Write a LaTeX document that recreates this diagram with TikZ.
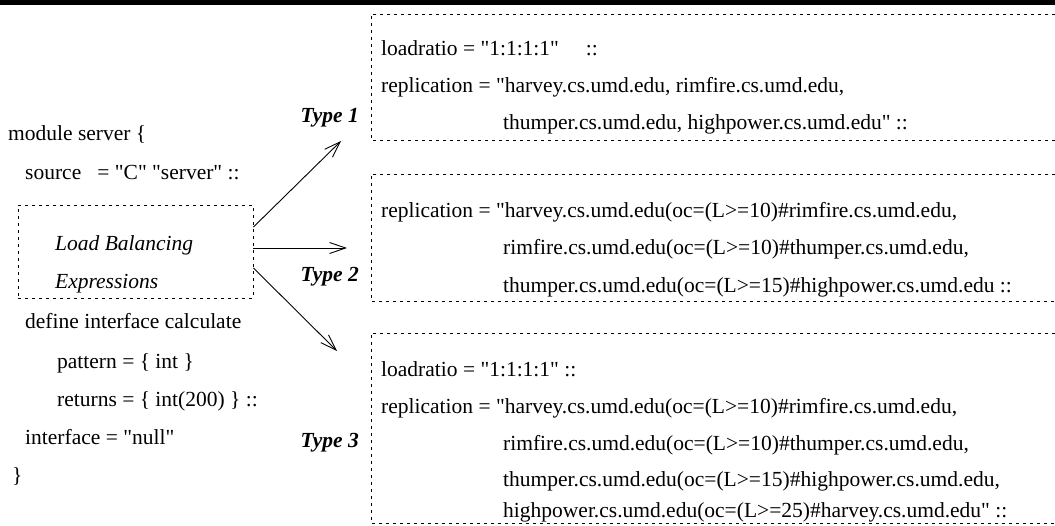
\documentclass[tikz,border=0pt]{standalone}
\usepackage{fontspec}
\setmainfont{Liberation Serif}[Ligatures=TeXOff]
\usetikzlibrary{arrows.meta}

\newcommand\codefont{\fontsize{21.5}{26}\selectfont}

\tikzset{
  code/.style={anchor=base west, inner sep=0pt, font=\codefont},
  typelabel/.style={anchor=base east, inner sep=0pt, font=\codefont\bfseries\itshape},
  dotbox/.style={dash pattern=on 3pt off 4pt, line width=0.9pt},
  flow/.style={line width=0.9pt, -{Straight Barb[length=16pt,width=11pt,line width=0.9pt]}}
}

\begin{document}
\begin{tikzpicture}[x=1pt, y=-1pt]
\useasboundingbox (0,0) rectangle (1055,525);
\fill (0,0) rectangle (1055,5);

% module definition
\node[code] (mod)   at (8,140)  {module server \{};
\node[code] (src)   at (25,179) {source~~~= "C" "server" ::};
\node[draw, dotbox, minimum width=235pt, minimum height=93pt, inner sep=0pt] (lbe) at (135.5,251.5) {};
\node[code, font=\codefont\itshape] (lbe1) at (55,250) {Load Balancing};
\node[code, font=\codefont\itshape] (lbe2) at (55,288) {Expressions};
\node[code] (def)   at (25,328) {define interface calculate};
\node[code] (pat)   at (57,368) {pattern = \{ int \}};
\node[code] (ret)   at (57,406) {returns = \{ int(200) \} ::};
\node[code] (intf)  at (25,444) {interface = "null"};
\node[code] (close) at (12,482) {\}};

% the three kinds
\node[typelabel] (type1) at (359,122) {Type 1};
\node[typelabel] (type2) at (359,281) {Type 2};
\node[typelabel] (type3) at (359,447) {Type 3};

\coordinate (tip1) at (341,141);
\coordinate (tip2) at (347,248);
\coordinate (tip3) at (337,351);
\draw[flow] ([yshift=24.5pt]lbe.east) -- (tip1);
\draw[flow] ([yshift=3.5pt]lbe.east) -- (tip2);
\draw[flow] ([yshift=-16.5pt]lbe.east) -- (tip3);

% type 1
\draw[dotbox] (1055,14) -| (371,140) -- (1055,140);
\node[code] (a1) at (381,55)  {loadratio = "1:1:1:1"~~~~~::};
\node[code] (a2) at (381,92)  {replication = "harvey.cs.umd.edu, rimfire.cs.umd.edu,};
\node[code] (a3) at (503,129) {thumper.cs.umd.edu, highpower.cs.umd.edu" ::};

% type 2
\draw[dotbox] (1055,174) -| (371,301) -- (1055,301);
\node[code] (b1) at (381,217) {replication = "harvey.cs.umd.edu(oc=(L>=10)\#rimfire.cs.umd.edu,};
\node[code] (b2) at (503,254) {rimfire.cs.umd.edu(oc=(L>=10)\#thumper.cs.umd.edu,};
\node[code] (b3) at (503,292) {thumper.cs.umd.edu(oc=(L>=15)\#highpower.cs.umd.edu ::};

% type 3
\draw[dotbox] (1055,333) -| (371,523) -- (1055,523);
\node[code] (c1) at (381,376) {loadratio = "1:1:1:1" ::};
\node[code] (c2) at (381,413) {replication = "harvey.cs.umd.edu(oc=(L>=10)\#rimfire.cs.umd.edu,};
\node[code] (c3) at (503,450) {rimfire.cs.umd.edu(oc=(L>=10)\#thumper.cs.umd.edu,};
\node[code] (c4) at (503,486) {thumper.cs.umd.edu(oc=(L>=15)\#highpower.cs.umd.edu,};
\node[code] (c5) at (503,517) {highpower.cs.umd.edu(oc=(L>=25)\#harvey.cs.umd.edu" ::};
\end{tikzpicture}
\end{document}
